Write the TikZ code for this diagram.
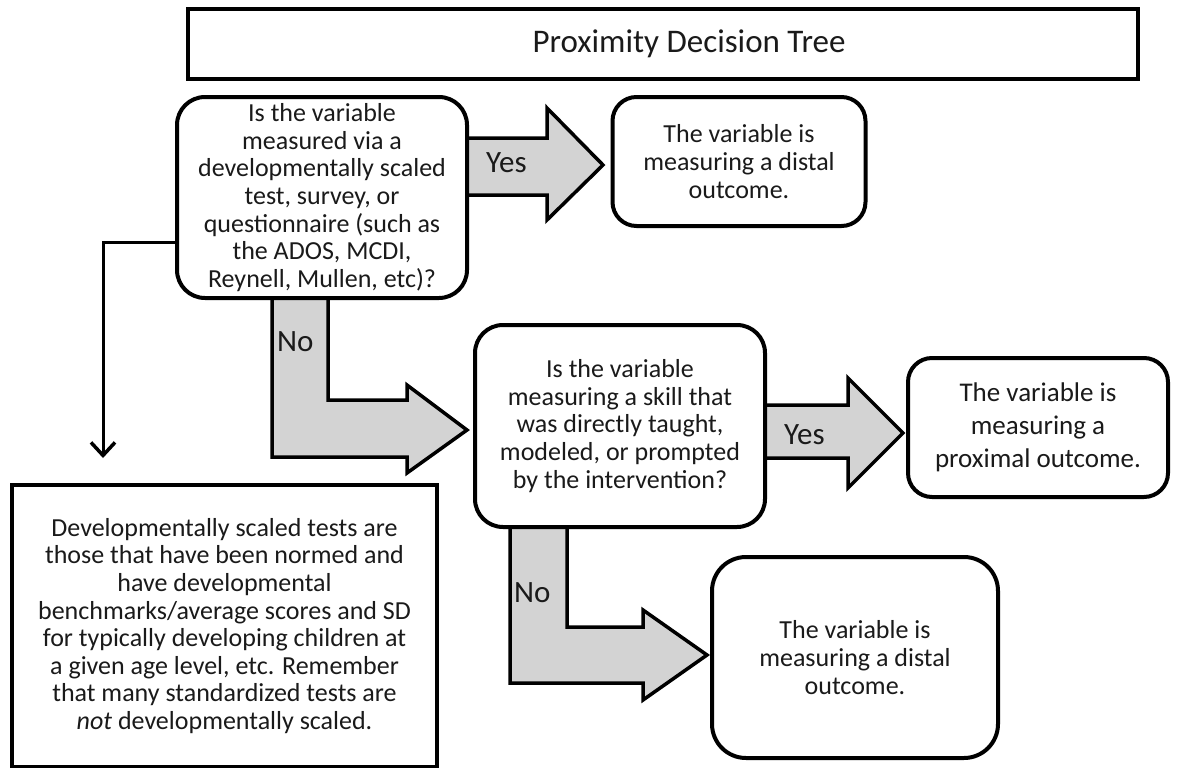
\documentclass[tikz,border=0pt]{standalone}
\usepackage{fontspec}
\setmainfont{Carlito}
\usetikzlibrary{arrows.meta}
\definecolor{arrowgray}{HTML}{D3D3D3}
\definecolor{ink}{HTML}{1A1A1A}
\tikzset{
  box/.style={draw=black, line width=4pt, fill=white, rounded corners=28pt, align=center, inner sep=0pt, text=ink,
    font=\fontsize{26}{27.6}\selectfont},
  sqbox/.style={draw=black, line width=4pt, fill=white, align=center, inner sep=0pt, text=ink},
  blockarrow/.style={draw=black, line width=3.5pt, fill=arrowgray, line join=miter},
  lbl/.style={inner sep=0pt, text=ink, font=\fontsize{31}{34}\selectfont},
  thinarrow/.style={draw=black, line width=3pt, -{Straight Barb[length=13pt,width=24pt,line width=3.5pt]}}
}
\begin{document}
\begin{tikzpicture}[x=1pt,y=-1pt]
\useasboundingbox (0,0) rectangle (1183,768);
% title
\node[sqbox, minimum width=950pt, minimum height=70pt] (title) at (663,44) {};
\node[lbl, font=\fontsize{33}{36}\selectfont] (titletext) at (689,44) {Proximity Decision Tree};

% block arrows (drawn under the boxes)
\draw[blockarrow] (462,138) -- (547,138) -- (547,108) -- (603,165) -- (547,220) -- (547,195) -- (462,195) -- cycle;
\draw[blockarrow] (272,292) -- (328,292) -- (328,400) -- (407,400) -- (407,385) -- (467,430) -- (407,473) -- (407,457) -- (272,457) -- cycle;
\draw[blockarrow] (760,405) -- (848,405) -- (848,378) -- (903,433) -- (848,488) -- (848,458) -- (760,458) -- cycle;
\draw[blockarrow] (510,522) -- (567,522) -- (567,627) -- (643,627) -- (643,610) -- (707,655) -- (643,700) -- (643,683) -- (510,683) -- cycle;

% boxes
\node[box, minimum width=290pt, minimum height=201pt] (q1) at (322,197.5)
  {Is the variable\\measured via a\\developmentally scaled\\test, survey, or\\questionnaire (such as\\the ADOS, MCDI,\\Reynell, Mullen, etc)?};
\node[box, minimum width=253pt, minimum height=129pt, rounded corners=24pt] (d1) at (739,161.5)
  {The variable is\\measuring a distal\\outcome.};
\node[box, minimum width=290pt, minimum height=202pt] (q2) at (620,426)
  {Is the variable\\measuring a skill that\\was directly taught,\\modeled, or prompted\\by the intervention?};
\node[box, minimum width=260pt, minimum height=139pt, rounded corners=24pt, font=\fontsize{27}{33}\selectfont] (p1) at (1038,427.5)
  {The variable is\\measuring a\\proximal outcome.};
\node[box, minimum width=286pt, minimum height=201pt, rounded corners=34pt] (d2) at (855,657.5)
  {The variable is\\measuring a distal\\outcome.};
\node[sqbox, minimum width=425pt, minimum height=282pt, font=\fontsize{26}{27.6}\selectfont] (note) at (224.5,626)
  {Developmentally scaled tests are\\those that have been normed and\\have developmental\\benchmarks/average scores and SD\\for typically developing children at\\a given age level, etc. Remember\\that many standardized tests are\\\emph{not} developmentally scaled.};

% labels on block arrows
\node[lbl, anchor=west] (yes1) at (486,163) {Yes};
\node[lbl, anchor=west] (no1) at (277,342) {No};
\node[lbl, anchor=west] (yes2) at (784,435) {Yes};
\node[lbl, anchor=west] (no2) at (514,593) {No};

% thin connector
\coordinate (tipL) at (103,458);
\draw[thinarrow] (q1.west |- 0,242) -| (tipL);
\end{tikzpicture}
\end{document}
